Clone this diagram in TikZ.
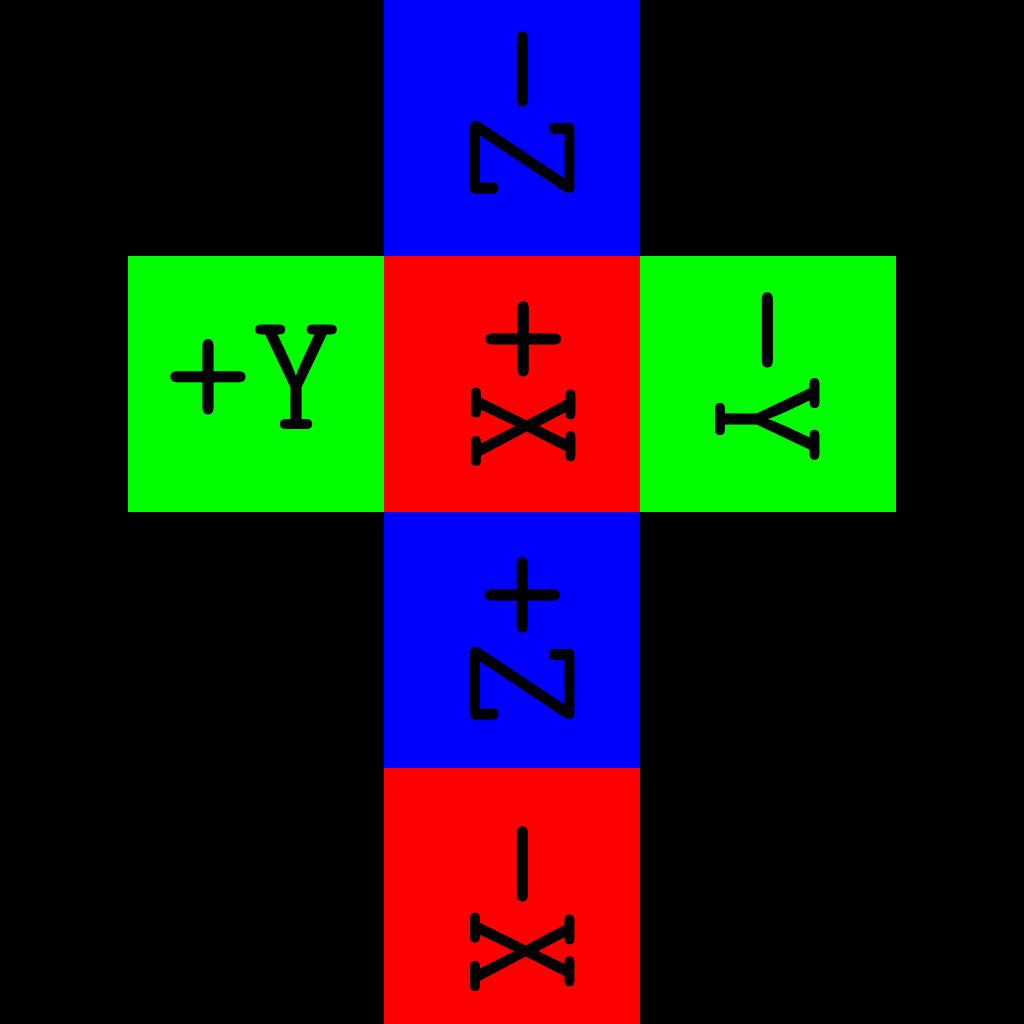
\documentclass[tikz,border=0pt]{standalone}
\usepackage{fontspec}
\usepackage{tikz}
\definecolor{facered}{RGB}{255,0,0}
\definecolor{facegreen}{RGB}{0,255,0}
\definecolor{faceblue}{RGB}{0,0,255}

\begin{document}
\begin{tikzpicture}[face/.style={minimum size=2cm, inner sep=0pt, outer sep=0pt},
  lbl/.style={font=\ttfamily\fontsize{38}{38}\selectfont, text=black, inner sep=0pt}]
\fill[black] (-1,0) rectangle (7,8);
\useasboundingbox (-1,0) rectangle (7,8);
\node[face, fill=faceblue] (nz) at (3,7) {};
\node[face, fill=facegreen] (py) at (1,5) {};
\node[face, fill=facered] (px) at (3,5) {};
\node[face, fill=facegreen] (ny) at (5,5) {};
\node[face, fill=faceblue] (pz) at (3,3) {};
\node[face, fill=facered] (nx) at (3,1) {};
\node[lbl, rotate=-90] (nzlbl) at ([shift={(0.08,0.11)}]nz) {−Z};
\node[lbl] (pylbl) at ([shift={(-0.03,0.05)}]py) {+Y};
\node[lbl, rotate=-90] (pxlbl) at ([shift={(0.09,0)}]px) {+X};
\node[lbl, rotate=-90] (nylbl) at ([shift={(0,0.07)}]ny) {−Y};
\node[lbl, rotate=-90] (pzlbl) at ([shift={(0.08,0)}]pz) {+Z};
\node[lbl, rotate=-90] (nxlbl) at ([shift={(0.08,-0.1)}]nx) {−X};
\end{tikzpicture}
\end{document}
